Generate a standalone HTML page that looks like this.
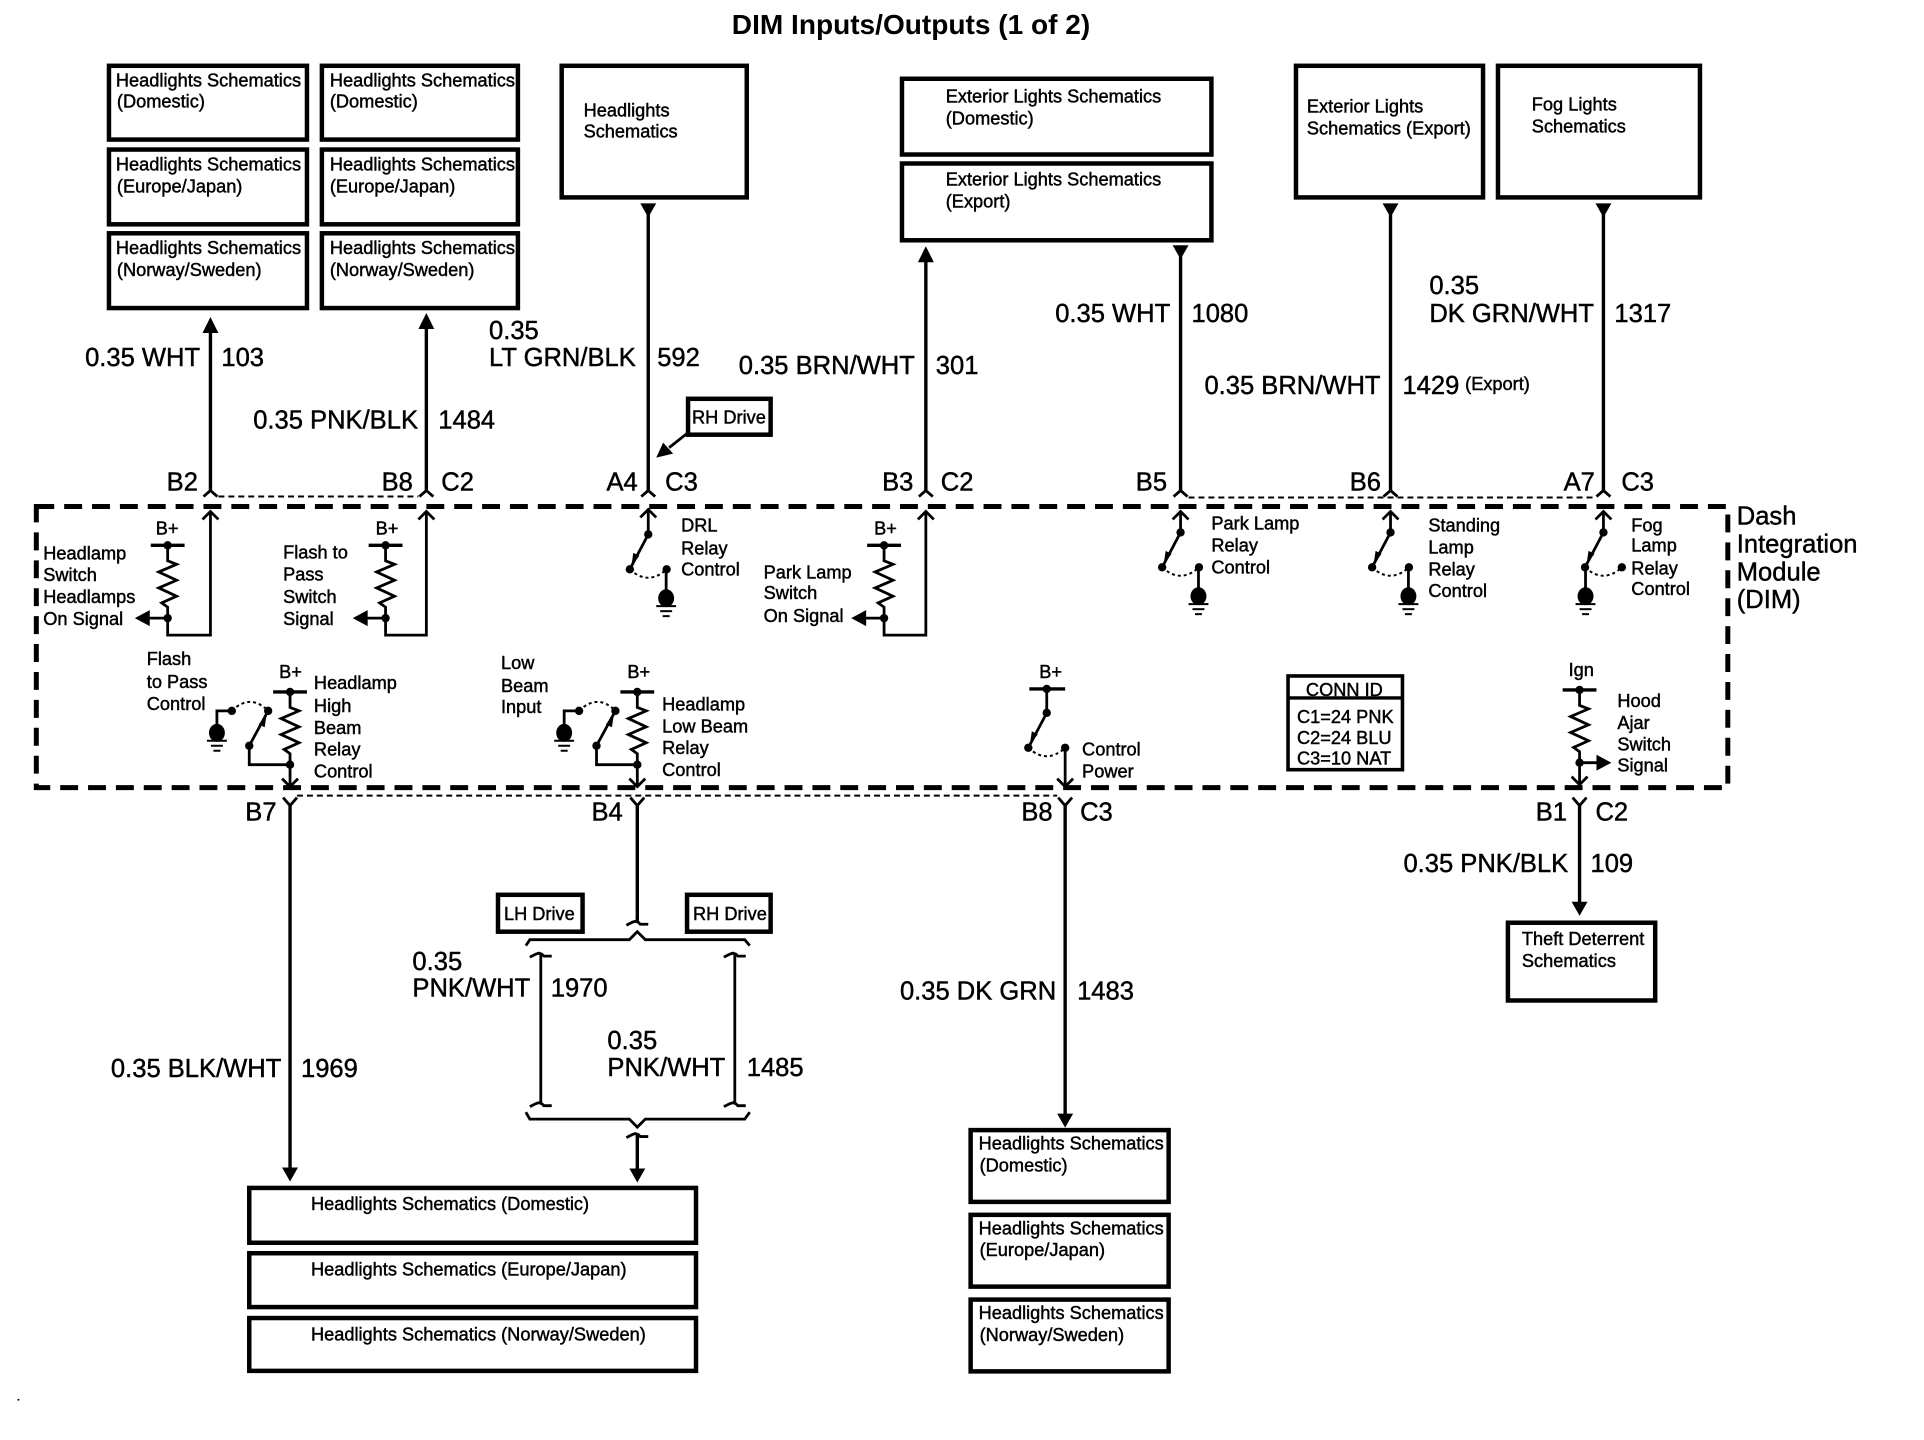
<!DOCTYPE html>
<html>
<head>
<meta charset="utf-8">
<style>
html,body{margin:0;padding:0;background:#fff}
svg{display:block}
text{font-family:"Liberation Sans",sans-serif;fill:#000;stroke:#000;stroke-width:.45}
.s{font-size:18.3px}
.m{font-size:25.7px}
.t{font-size:28.2px;font-weight:bold;stroke-width:0}
.x{fill:#fff;stroke:#000;stroke-width:4.5}
.w{fill:none;stroke:#000;stroke-width:3.4}
.n{fill:none;stroke:#000;stroke-width:2.8}
.h{fill:none;stroke:#000;stroke-width:2}
.d{fill:#000;stroke:none}
</style>
</head>
<body>
<svg xmlns="http://www.w3.org/2000/svg" width="1924" height="1440" viewBox="0 0 1924 1440">
<defs>
<g id="res">
<polyline class="n" points="0,0 0,15.5 9,19 -9,26.7 9,35 -9,42.7 9,51 -6,57.7 0,62 0,73"/>
<line class="w" x1="-17" y1="0" x2="17" y2="0"/>
<circle class="d" cx="0" cy="0" r="4.2"/>
<circle class="d" cx="0" cy="73" r="4.2"/>
</g>
<g id="gnd">
<ellipse class="d" cx="0" cy="0" rx="8" ry="9"/>
<line class="h" x1="-10" y1="8" x2="10" y2="8"/>
<line class="h" x1="-6" y1="13" x2="6" y2="13"/>
<line class="h" x1="-3.5" y1="18" x2="3.5" y2="18"/>
</g>
<g id="sw">
<line class="n" x1="0" y1="0" x2="-18.5" y2="35"/>
<polygon class="d" points="-17,32 -9,21.5 -15,18.5"/>
<circle class="d" cx="0" cy="0" r="4.2"/>
<circle class="d" cx="-18.5" cy="35" r="4.2"/>
<circle class="d" cx="18.5" cy="35" r="4.2"/>
<path class="h" stroke-dasharray="3 3" d="M-18.5 35Q0 52 18.5 35"/>
</g>
<g id="swu">
<line class="n" x1="-41" y1="-19" x2="-22" y2="-54"/>
<polygon class="d" points="-23.5,-51 -31.5,-40.5 -25.5,-37.5"/>
<circle class="d" cx="-41" cy="-19" r="4.2"/>
<circle class="d" cx="-22" cy="-54" r="4.2"/>
<circle class="d" cx="-58.5" cy="-54" r="4.2"/>
<path class="h" stroke-dasharray="3 3" d="M-58.5 -54Q-40 -72 -22 -54"/>
<polyline class="n" points="-73.5,-32 -73.5,-54 -58.5,-54"/>
<polyline class="n" points="0,0 -41,0 -41,-19"/>
<use href="#gnd" x="-73.5" y="-32"/>
</g>
<polyline id="ua" class="n" points="-8,8 0,0 8,8"/>
<polyline id="da" class="n" points="-8,-8 0,0 8,-8"/>
<polyline id="ci" class="n" points="-7,6 0,0 7,6"/>
<polyline id="co" class="n" points="-7,-8 0,0 7,-8"/>
<polygon id="hu" class="d" points="0,0 -8,16 8,16"/>
<polygon id="hd" class="d" points="0,0 -8,-14 8,-14"/>
<polygon id="hdt" class="d" points="-8,0 8,0 0,14"/>
<polyline id="hk" class="n" points="-11,3 -5,0 -2,-1 1,0 3,2 11,2"/>
</defs>

<rect width="1924" height="1440" fill="#fff"/>
<g transform="translate(.5,0) scale(.995,.997)">

<text class="t" x="735" y="34">DIM Inputs/Outputs (1 of 2)</text>

<!-- top boxes -->
<rect class="x" x="109" y="66" width="199" height="74"/>
<rect class="x" x="109" y="150" width="199" height="75"/>
<rect class="x" x="109" y="234" width="199" height="75"/>
<rect class="x" x="323" y="66" width="197" height="74"/>
<rect class="x" x="323" y="150" width="197" height="75"/>
<rect class="x" x="323" y="234" width="197" height="75"/>
<rect class="x" x="564" y="66" width="186" height="132"/>
<rect class="x" x="906" y="79" width="311" height="76"/>
<rect class="x" x="906" y="164" width="311" height="77"/>
<rect class="x" x="1302" y="66" width="188" height="132"/>
<rect class="x" x="1505" y="66" width="203" height="132"/>

<text class="s" x="116" y="87">Headlights Schematics</text><text class="s" x="117" y="108">(Domestic)</text>
<text class="s" x="116" y="171">Headlights Schematics</text><text class="s" x="117" y="193">(Europe/Japan)</text>
<text class="s" x="116" y="255">Headlights Schematics</text><text class="s" x="117" y="277">(Norway/Sweden)</text>
<text class="s" x="331" y="87">Headlights Schematics</text><text class="s" x="331" y="108">(Domestic)</text>
<text class="s" x="331" y="171">Headlights Schematics</text><text class="s" x="331" y="193">(Europe/Japan)</text>
<text class="s" x="331" y="255">Headlights Schematics</text><text class="s" x="331" y="277">(Norway/Sweden)</text>
<text class="s" x="586" y="117">Headlights</text><text class="s" x="586" y="138">Schematics</text>
<text class="s" x="950" y="103">Exterior Lights Schematics</text><text class="s" x="950" y="125">(Domestic)</text>
<text class="s" x="950" y="186">Exterior Lights Schematics</text><text class="s" x="950" y="208">(Export)</text>
<text class="s" x="1313" y="113">Exterior Lights</text><text class="s" x="1313" y="135">Schematics (Export)</text>
<text class="s" x="1539" y="111">Fog Lights</text><text class="s" x="1539" y="133">Schematics</text>

<!-- top wires -->
<line class="w" x1="211" y1="330" x2="211" y2="492"/><use href="#hu" x="211" y="318"/>
<line class="w" x1="428" y1="326" x2="428" y2="492"/><use href="#hu" x="428" y="314"/>
<line class="w" x1="651" y1="215" x2="651" y2="492"/><use href="#hdt" x="651" y="204"/>
<line class="w" x1="930" y1="260" x2="930" y2="492"/><use href="#hu" x="930" y="247"/>
<line class="w" x1="1186" y1="257" x2="1186" y2="492"/><use href="#hdt" x="1186" y="246"/>
<line class="w" x1="1397" y1="215" x2="1397" y2="492"/><use href="#hdt" x="1397" y="204"/>
<line class="w" x1="1611" y1="215" x2="1611" y2="492"/><use href="#hdt" x="1611" y="204"/>

<text class="m" x="85" y="367">0.35 WHT</text><text class="m" x="222" y="367">103</text>
<text class="m" x="254" y="430">0.35 PNK/BLK</text><text class="m" x="440" y="430">1484</text>
<text class="m" x="491" y="340">0.35</text><text class="m" x="491" y="367">LT GRN/BLK</text><text class="m" x="660" y="367">592</text>
<text class="m" x="742" y="375">0.35 BRN/WHT</text><text class="m" x="940" y="375">301</text>
<text class="m" x="1060" y="323">0.35 WHT</text><text class="m" x="1197" y="323">1080</text>
<text class="m" x="1210" y="395">0.35 BRN/WHT</text><text class="m" x="1409" y="395">1429</text><text class="s" x="1472" y="391">(Export)</text>
<text class="m" x="1436" y="295">0.35</text><text class="m" x="1436" y="323">DK GRN/WHT</text><text class="m" x="1622" y="323">1317</text>

<!-- RH drive callout -->
<rect class="x" x="691" y="400" width="83" height="36"/>
<text class="s" x="695" y="425">RH Drive</text>
<line class="n" x1="691" y1="434" x2="672" y2="449"/>
<polygon class="d" points="659,459 666,444 676,455"/>

<!-- connector labels top -->
<text class="m" x="167" y="492">B2</text>
<text class="m" x="383" y="492">B8</text><text class="m" x="443" y="492">C2</text>
<text class="m" x="609" y="492">A4</text><text class="m" x="668" y="492">C3</text>
<text class="m" x="886" y="492">B3</text><text class="m" x="945" y="492">C2</text>
<text class="m" x="1141" y="492">B5</text>
<text class="m" x="1356" y="492">B6</text>
<text class="m" x="1571" y="492">A7</text><text class="m" x="1629" y="492">C3</text>

<use href="#ci" x="211" y="492"/><use href="#ci" x="428" y="492"/><use href="#ci" x="651" y="492"/><use href="#ci" x="930" y="492"/><use href="#ci" x="1186" y="492"/><use href="#ci" x="1397" y="492"/><use href="#ci" x="1611" y="492"/>
<line class="h" stroke-dasharray="6 4" x1="219" y1="498" x2="420" y2="498"/>
<line class="h" stroke-dasharray="6 4" x1="1194" y1="499" x2="1604" y2="499"/>

<!-- module -->
<rect x="36" y="508" width="1700" height="282" fill="none" stroke="#000" stroke-width="5" stroke-dasharray="18 10"/>
<text class="m" x="1745" y="526">Dash</text>
<text class="m" x="1745" y="554">Integration</text>
<text class="m" x="1745" y="582">Module</text>
<text class="m" x="1745" y="610">(DIM)</text>

<!-- resistors row 1 -->
<text class="s" x="156" y="536">B+</text>
<use href="#res" x="168" y="547"/>
<polyline class="n" points="168,620 168,637 211,637 211,513"/><use href="#ua" x="211" y="513"/>
<line class="n" x1="148" y1="620" x2="168" y2="620"/><polygon class="d" points="135,620 150,612 150,628"/>
<text class="s" x="43" y="561">Headlamp</text><text class="s" x="43" y="583">Switch</text><text class="s" x="43" y="605">Headlamps</text><text class="s" x="43" y="627">On Signal</text>

<text class="s" x="377" y="536">B+</text>
<use href="#res" x="387" y="547"/>
<polyline class="n" points="387,620 387,637 428,637 428,513"/><use href="#ua" x="428" y="513"/>
<line class="n" x1="367" y1="620" x2="387" y2="620"/><polygon class="d" points="354,620 369,612 369,628"/>
<text class="s" x="284" y="560">Flash to</text><text class="s" x="284" y="582">Pass</text><text class="s" x="284" y="605">Switch</text><text class="s" x="284" y="627">Signal</text>

<text class="s" x="878" y="536">B+</text>
<use href="#res" x="888" y="547"/>
<polyline class="n" points="888,620 888,637 930,637 930,513"/><use href="#ua" x="930" y="513"/>
<line class="n" x1="868" y1="620" x2="888" y2="620"/><polygon class="d" points="855,620 870,612 870,628"/>
<text class="s" x="767" y="580">Park Lamp</text><text class="s" x="767" y="601">Switch</text><text class="s" x="767" y="624">On Signal</text>

<!-- switches row 1 -->
<line class="n" x1="651" y1="513" x2="651" y2="536"/><use href="#ua" x="651" y="511"/><use href="#sw" x="651" y="536"/>
<line class="n" x1="669" y1="571" x2="669" y2="600"/><use href="#gnd" x="669" y="600"/>
<text class="s" x="684" y="533">DRL</text><text class="s" x="684" y="556">Relay</text><text class="s" x="684" y="577">Control</text>

<line class="n" x1="1186" y1="513" x2="1186" y2="534"/><use href="#ua" x="1186" y="513"/><use href="#sw" x="1186" y="534"/>
<line class="n" x1="1204" y1="569" x2="1204" y2="598"/><use href="#gnd" x="1204" y="598"/>
<text class="s" x="1217" y="531">Park Lamp</text><text class="s" x="1217" y="553">Relay</text><text class="s" x="1217" y="575">Control</text>

<line class="n" x1="1397" y1="513" x2="1397" y2="534"/><use href="#ua" x="1397" y="513"/><use href="#sw" x="1397" y="534"/>
<line class="n" x1="1415" y1="569" x2="1415" y2="598"/><use href="#gnd" x="1415" y="598"/>
<text class="s" x="1435" y="533">Standing</text><text class="s" x="1435" y="555">Lamp</text><text class="s" x="1435" y="577">Relay</text><text class="s" x="1435" y="599">Control</text>

<line class="n" x1="1611" y1="513" x2="1611" y2="534"/><use href="#ua" x="1611" y="513"/><use href="#sw" x="1611" y="534"/>
<line class="n" x1="1593" y1="569" x2="1593" y2="598"/><use href="#gnd" x="1593" y="598"/>
<text class="s" x="1639" y="533">Fog</text><text class="s" x="1639" y="553">Lamp</text><text class="s" x="1639" y="576">Relay</text><text class="s" x="1639" y="597">Control</text>

<!-- row 2 -->
<text class="s" x="280" y="680">B+</text>
<use href="#res" x="291" y="694"/><use href="#swu" x="291" y="767"/>
<line class="n" x1="291" y1="767" x2="291" y2="789"/><use href="#da" x="291" y="789"/>
<text class="s" x="147" y="667">Flash</text><text class="s" x="147" y="690">to Pass</text><text class="s" x="147" y="712">Control</text>
<text class="s" x="315" y="691">Headlamp</text><text class="s" x="315" y="714">High</text><text class="s" x="315" y="736">Beam</text><text class="s" x="315" y="758">Relay</text><text class="s" x="315" y="780">Control</text>

<text class="s" x="630" y="680">B+</text>
<use href="#res" x="640" y="694"/><use href="#swu" x="640" y="767"/>
<line class="n" x1="640" y1="767" x2="640" y2="789"/><use href="#da" x="640" y="789"/>
<text class="s" x="503" y="671">Low</text><text class="s" x="503" y="694">Beam</text><text class="s" x="503" y="715">Input</text>
<text class="s" x="665" y="712.5">Headlamp</text><text class="s" x="665" y="734.5">Low Beam</text><text class="s" x="665" y="756.5">Relay</text><text class="s" x="665" y="778.5">Control</text>

<text class="s" x="1044" y="680">B+</text>
<line class="w" x1="1034" y1="691" x2="1070" y2="691"/><circle class="d" cx="1051.5" cy="691" r="4.2"/>
<line class="n" x1="1051.5" y1="691" x2="1051.5" y2="715"/>
<use href="#sw" x="1051.5" y="715"/>
<line class="n" x1="1070" y1="750" x2="1070" y2="789"/><use href="#da" x="1070" y="789"/>
<text class="s" x="1087" y="758">Control</text><text class="s" x="1087" y="780">Power</text>

<!-- conn id -->
<rect x="1294" y="678" width="115" height="94" fill="#fff" stroke="#000" stroke-width="3.6"/>
<line class="w" x1="1294" y1="700" x2="1409" y2="700"/>
<text class="s" x="1312" y="698">CONN ID</text>
<text class="s" x="1303" y="725">C1=24 PNK</text><text class="s" x="1303" y="746">C2=24 BLU</text><text class="s" x="1303" y="767">C3=10 NAT</text>

<!-- hood -->
<text class="s" x="1576" y="678">Ign</text>
<use href="#res" x="1587" y="692"/>
<line class="n" x1="1587" y1="765" x2="1587" y2="787"/><use href="#da" x="1587" y="787"/>
<line class="n" x1="1587" y1="765" x2="1606" y2="765"/><polygon class="d" points="1619,765 1604,757 1604,773"/>
<text class="s" x="1625" y="709">Hood</text><text class="s" x="1625" y="731">Ajar</text><text class="s" x="1625" y="753">Switch</text><text class="s" x="1625" y="774">Signal</text>

<!-- bottom connectors -->
<line class="h" stroke-dasharray="6 4" x1="298" y1="798" x2="1062" y2="798"/>
<use href="#co" x="291" y="808"/><use href="#co" x="640" y="808"/><use href="#co" x="1070" y="808"/><use href="#co" x="1587" y="808"/>
<text class="m" x="246" y="823">B7</text>
<text class="m" x="594" y="823">B4</text>
<text class="m" x="1026" y="823">B8</text><text class="m" x="1085" y="823">C3</text>
<text class="m" x="1543" y="823">B1</text><text class="m" x="1603" y="823">C2</text>

<!-- bottom wires -->
<line class="w" x1="291" y1="808" x2="291" y2="1175"/><use href="#hd" x="291" y="1185"/>
<line class="w" x1="640" y1="808" x2="640" y2="925"/>
<line class="w" x1="1070" y1="808" x2="1070" y2="1118"/><use href="#hd" x="1070" y="1131"/>
<line class="w" x1="1587" y1="808" x2="1587" y2="905"/><use href="#hd" x="1587" y="918.5"/>

<text class="m" x="904" y="1002.5">0.35 DK GRN</text><text class="m" x="1082" y="1002.5">1483</text>
<text class="m" x="1410" y="874.5">0.35 PNK/BLK</text><text class="m" x="1598" y="874.5">109</text>

<rect class="x" x="1515" y="925.5" width="148" height="78"/>
<text class="s" x="1529" y="948">Theft Deterrent</text><text class="s" x="1529" y="970">Schematics</text>

<g transform="translate(0,-1)">
<use href="#hk" x="640" y="926"/>
<text class="m" x="111" y="1081">0.35 BLK/WHT</text><text class="m" x="302" y="1081">1969</text>

<rect class="x" x="500" y="898.5" width="85" height="37"/><text class="s" x="506" y="924">LH Drive</text>
<rect class="x" x="690" y="898.5" width="84" height="37"/><text class="s" x="696" y="924">RH Drive</text>
<polyline class="n" points="528,949.5 532,943.5 632,943.5 640,935.5 648,943.5 748,943.5 753,949.5"/>
<line class="n" x1="543" y1="958" x2="543" y2="1108"/><use href="#hk" x="543" y="958"/><use href="#hk" x="543" y="1108"/>
<line class="n" x1="738" y1="958" x2="738" y2="1108"/><use href="#hk" x="738" y="958"/><use href="#hk" x="738" y="1108"/>
<polyline class="n" points="528,1116.5 532,1123.5 632,1123.5 640,1131.5 648,1123.5 748,1123.5 753,1116.5"/>
<use href="#hk" x="640" y="1139"/>
<line class="w" x1="640" y1="1139" x2="640" y2="1175"/><use href="#hd" x="640" y="1187"/>

<text class="m" x="414" y="974">0.35</text><text class="m" x="414" y="1000.5">PNK/WHT</text><text class="m" x="553" y="1000.5">1970</text>
<text class="m" x="610" y="1053">0.35</text><text class="m" x="610" y="1080">PNK/WHT</text><text class="m" x="750" y="1080">1485</text>

<rect class="x" x="250" y="1192.5" width="449" height="55"/>
<rect class="x" x="250" y="1258" width="449" height="54"/>
<rect class="x" x="250" y="1323" width="449" height="53"/>
<text class="s" x="312" y="1214.5">Headlights Schematics (Domestic)</text>
<text class="s" x="312" y="1280.5">Headlights Schematics (Europe/Japan)</text>
<text class="s" x="312" y="1345.5">Headlights Schematics (Norway/Sweden)</text>

<rect class="x" x="975" y="1134.5" width="199" height="72"/>
<rect class="x" x="975" y="1219.5" width="199" height="72"/>
<rect class="x" x="975" y="1304.5" width="199" height="72"/>
<text class="s" x="983" y="1154">Headlights Schematics</text><text class="s" x="984" y="1176">(Domestic)</text>
<text class="s" x="983" y="1239">Headlights Schematics</text><text class="s" x="984" y="1261">(Europe/Japan)</text>
<text class="s" x="983" y="1324">Headlights Schematics</text><text class="s" x="984" y="1346">(Norway/Sweden)</text>
</g>

<circle class="d" cx="18" cy="1404" r="1"/>
</g>
</svg>
</body>
</html>
